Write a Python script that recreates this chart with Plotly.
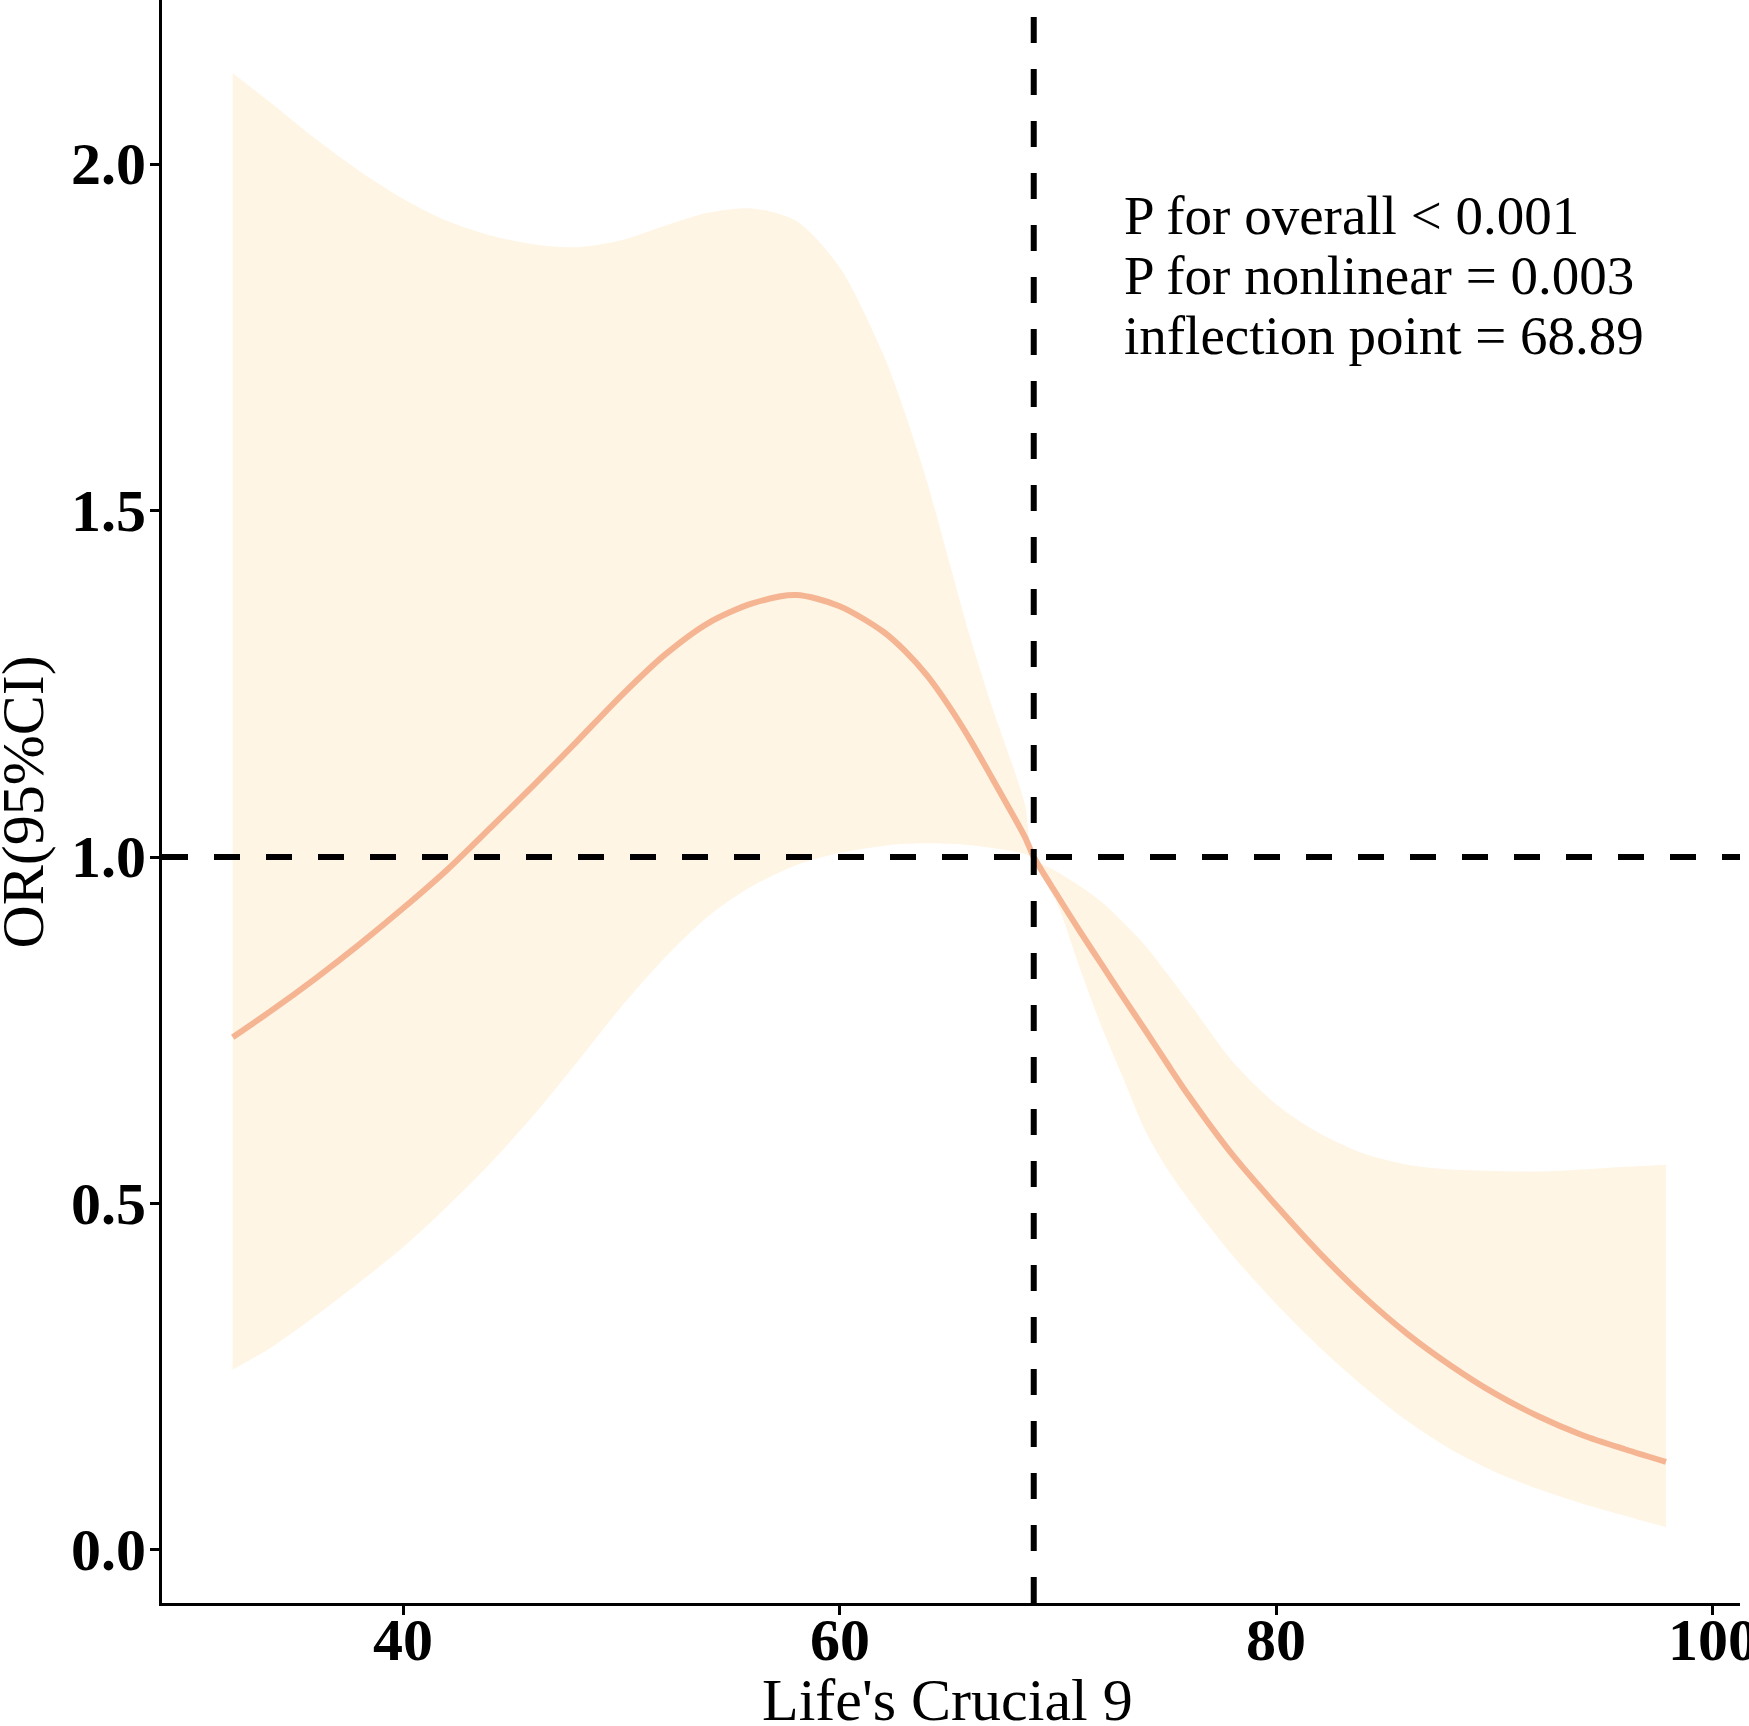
import plotly.graph_objects as go

# ---- data ----
x_vals = [32.2, 34, 36, 38, 40, 42, 44, 46, 48, 50, 52, 54, 56, 58, 60, 62, 63, 64, 65, 66, 67, 68, 68.5,
          68.89, 70, 71, 72, 73, 74, 75, 76, 78, 80, 82, 84, 86, 88, 90, 92, 94, 96, 97.85]
or_vals = [0.740, 0.779, 0.825, 0.874, 0.926, 0.981, 1.042, 1.104, 1.168, 1.233, 1.292, 1.338,
           1.366, 1.378, 1.362, 1.325, 1.297, 1.262, 1.218, 1.168, 1.113, 1.057, 1.028,
           1.000, 0.943, 0.893, 0.845, 0.797, 0.750, 0.702, 0.655, 0.570, 0.497, 0.428, 0.366,
           0.312, 0.266, 0.226, 0.193, 0.166, 0.145, 0.127]
upper_vals = [2.131, 2.087, 2.036, 1.990, 1.950, 1.918, 1.897, 1.884, 1.880, 1.890, 1.911, 1.930,
              1.936, 1.918, 1.851, 1.725, 1.640, 1.542, 1.428, 1.315, 1.215, 1.125, 1.075,
              1.000, 0.978, 0.958, 0.935, 0.905, 0.872, 0.832, 0.790, 0.705, 0.643, 0.601, 0.572,
              0.556, 0.549, 0.547, 0.546, 0.549, 0.553, 0.556]
lower_vals = [0.260, 0.293, 0.338, 0.386, 0.437, 0.495, 0.558, 0.628, 0.705, 0.784, 0.855, 0.915,
              0.958, 0.988, 1.006, 1.016, 1.019, 1.020, 1.019, 1.017, 1.013, 1.008, 1.004,
              1.000, 0.930, 0.840, 0.755, 0.680, 0.605, 0.550, 0.505, 0.425, 0.355, 0.292, 0.236,
              0.186, 0.145, 0.113, 0.088, 0.067, 0.049, 0.033]

x_ticks = [40, 60, 80, 100]
x_tick_text = ["40", "60", "80", "100"]
y_ticks = [0.0, 0.5, 1.0, 1.5, 2.0]
y_tick_text = ["0.0", "0.5", "1.0", "1.5", "2.0"]
ref_or = 1.0
inflection = 68.89
notes = ["P for overall < 0.001", "P for nonlinear = 0.003", "inflection point = 68.89"]
note_y = [1.8785, 1.7919, 1.7053]
note_x = 72.94
x_title = "Life's Crucial 9"
y_title = "OR(95%CI)"

FONT = "Times New Roman, Liberation Serif, serif"
FILL = "#FEF5E5"
LINE = "#F5B593"
TICKFONT = dict(family=FONT, size=60, color="black", weight="bold")

fig = go.Figure()
fig.add_trace(go.Scatter(x=x_vals, y=lower_vals, mode="lines",
                         line=dict(width=0, color=FILL, shape="spline", smoothing=0.8),
                         showlegend=False, hoverinfo="skip"))
fig.add_trace(go.Scatter(x=x_vals, y=upper_vals, mode="lines",
                         line=dict(width=0, color=FILL, shape="spline", smoothing=0.8),
                         fill="tonexty", fillcolor=FILL, showlegend=False, hoverinfo="skip"))
fig.add_trace(go.Scatter(x=x_vals, y=or_vals, mode="lines",
                         line=dict(width=6, color=LINE, shape="spline", smoothing=0.8),
                         showlegend=False))

fig.add_shape(type="line", xref="x domain", yref="y", x0=0, x1=1, y0=ref_or, y1=ref_or,
              line=dict(color="black", width=6, dash="26px,26px"))
fig.add_shape(type="line", xref="x", yref="y domain", x0=inflection, x1=inflection, y0=0, y1=1,
              line=dict(color="black", width=6, dash="26px,26px"))

for t, yy in zip(notes, note_y):
    fig.add_annotation(x=note_x, y=yy, xref="x", yref="y", text=t, showarrow=False,
                       xanchor="left", yanchor="bottom", font=dict(family=FONT, size=55, color="black"))

# tick labels, placed on the axis scales next to the tick marks
for v, t in zip(x_ticks, x_tick_text):
    fig.add_annotation(x=v, y=-0.02308, xref="x", yref="paper", text=t, showarrow=False,
                       xanchor="center", yanchor="middle", borderpad=0, font=TICKFONT)
for v, t in zip(y_ticks, y_tick_text):
    fig.add_annotation(x=-0.0095, y=v, xref="paper", yref="y", text=t, showarrow=False,
                       xanchor="right", yanchor="middle", borderpad=0, font=TICKFONT)

# axis titles
fig.add_annotation(x=0.4975, y=-0.08172, xref="paper", yref="paper", text=x_title, showarrow=False,
                   xanchor="center", yanchor="bottom", borderpad=0,
                   font=dict(family=FONT, size=60, color="black"))
fig.add_annotation(x=-0.0881, y=0.5, xref="paper", yref="paper", text=y_title, showarrow=False,
                   textangle=-90, xanchor="center", yanchor="middle", borderpad=0,
                   font=dict(family=FONT, size=60, color="black"))

fig.update_layout(
    width=1749, height=1726,
    margin=dict(l=162, r=9, t=0, b=123),
    paper_bgcolor="white", plot_bgcolor="white",
    showlegend=False,
    font=dict(family=FONT, color="black"),
)
fig.update_xaxes(range=[28.96, 101.24], tickvals=x_ticks, ticktext=x_tick_text, showticklabels=False,
                 ticks="outside", ticklen=9, tickwidth=3,
                 tickcolor="black", showline=True, linecolor="black", linewidth=3, showgrid=False,
                 zeroline=False)
fig.update_yaxes(range=[-0.0765, 2.2367], tickvals=y_ticks, ticktext=y_tick_text, showticklabels=False,
                 ticks="outside", ticklen=9,
                 tickwidth=3, tickcolor="black", showline=True, linecolor="black", linewidth=3, showgrid=False,
                 zeroline=False)

fig.write_html("out.html", config={"displayModeBar": False},
               post_script="document.body.style.margin='0';")
